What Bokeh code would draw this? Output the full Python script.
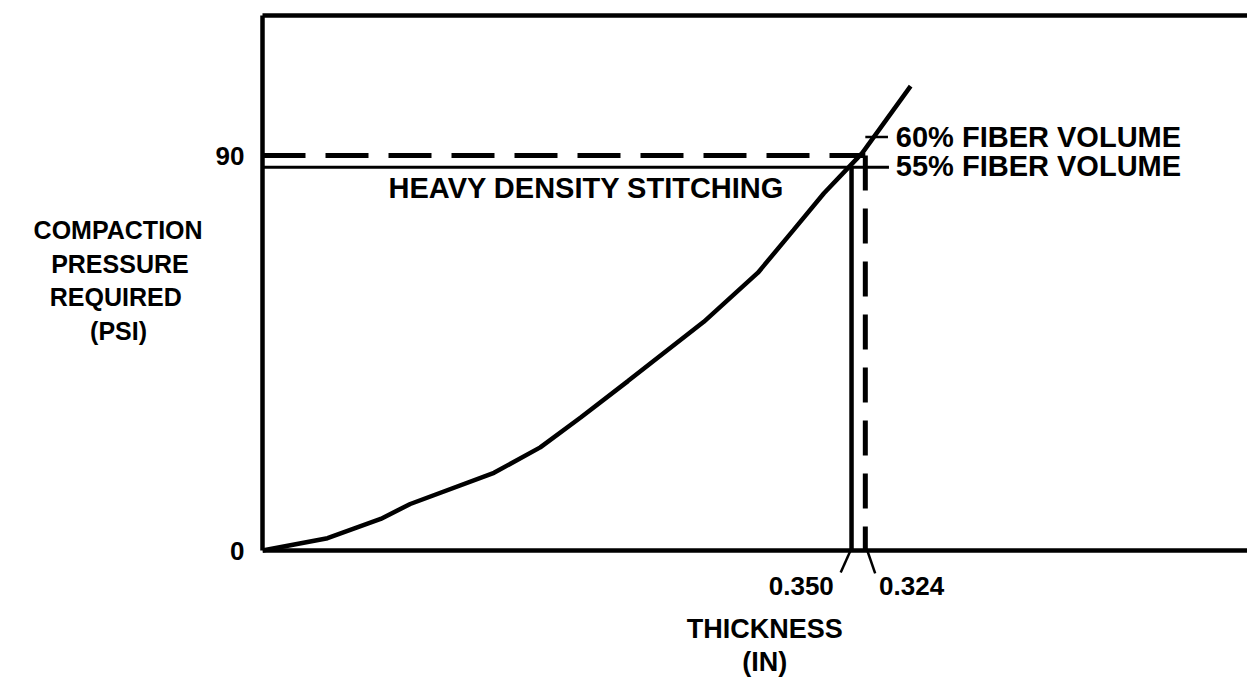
from bokeh.plotting import figure
from bokeh.models import Range1d, LinearAxis, FixedTicker, Span
from bokeh.core.properties import value
from bokeh.embed import file_html
from bokeh.resources import INLINE

# ---- data ----
# x: relative position along the thickness axis (0-100 across the frame)
curve_x = [0.0, 6.6, 12.0, 15.0, 23.5, 28.2, 32.3, 37.1, 44.8, 50.3, 53.9, 57.0, 59.5, 60.9, 65.8]
curve_y = [0.0, 2.8, 7.2, 10.6, 17.7, 23.5, 30.3, 38.6, 52.1, 63.3, 73.0, 81.4, 87.3, 90.6, 105.8]

pressure_60 = 90.0      # 60% fiber volume (dashed)
pressure_55 = 87.3      # 55% fiber volume / heavy density stitching (solid)
pos_350 = 59.8          # thickness 0.350 in position
pos_324 = 61.2          # thickness 0.324 in position
y_ticks = [0, 90]
thickness_labels = ["0.350", "0.324"]
fiber_labels = ["60% FIBER VOLUME", "55% FIBER VOLUME"]
y_title_lines = ["COMPACTION", "PRESSURE", "REQUIRED", "(PSI)"]
x_title_lines = ["THICKNESS", "(IN)"]

FONT = "Liberation Sans"
Y_TOP = 121.9
Y_BOTTOM = -29.39
NB = "\u00a0"

p = figure(width=1247, height=679, x_range=Range1d(0, 100), y_range=Range1d(Y_BOTTOM, Y_TOP),
           output_backend="svg", toolbar_location=None, x_axis_location=None,
           min_border_left=262, min_border_right=0, min_border_top=15, min_border_bottom=0)
p.outline_line_color = None
p.xgrid.visible = False
p.ygrid.visible = False
p.background_fill_color = "white"
p.border_fill_color = "white"

# y axis
ya = p.yaxis[0]
ya.bounds = (0, Y_TOP)
ya.ticker = FixedTicker(ticks=y_ticks)
ya.major_tick_out = 0
ya.major_tick_in = 0
ya.minor_tick_out = 0
ya.minor_tick_in = 0
ya.axis_line_width = 4.5
ya.axis_line_color = "black"
ya.major_label_text_font = FONT
ya.major_label_text_font_style = "bold"
ya.major_label_text_font_size = "26px"
ya.major_label_text_color = "black"
ya.major_label_standoff = 18
# pad the shorter lines so the right-aligned block looks centred; extra blank lines lift it
pads = [0, 2, 3, 8]
ya.axis_label = "\n".join(t + NB * n for t, n in zip(y_title_lines, pads)) + ("\n" + NB) * 4
ya.axis_label_orientation = "horizontal"
ya.axis_label_text_font = FONT
ya.axis_label_text_font_style = "bold"
ya.axis_label_text_font_size = "25px"
ya.axis_label_text_color = "black"
ya.axis_label_text_line_height = 1.2
ya.axis_label_standoff = 10

# top frame line
top = LinearAxis(ticker=FixedTicker(ticks=[]), axis_line_width=4.5, axis_line_color="black",
                 major_tick_out=0, minor_tick_out=0, major_label_text_font_size="0px")
p.add_layout(top, "above")

# thickness axis line
p.add_layout(Span(location=0, dimension="width", line_width=4.5, line_color="black"))

# curve
p.line(curve_x, curve_y, line_width=4.5, line_color="black")

# solid (55%) lines
p.line([0, pos_350 + 3.8], [pressure_55, pressure_55], line_width=3, line_color="black")
p.line([pos_350, pos_350], [0, pressure_55], line_width=4.5, line_color="black")

# dashed (60%) lines
p.line([0, pos_324], [pressure_60, pressure_60], line_width=5, line_color="black", line_dash="43 20")
p.line([pos_324, pos_324], [pressure_60, 0], line_width=5, line_color="black", line_dash="35 18")

# leader to 60% label
p.line([pos_324, pos_324 + 2.3], [pressure_60 + 4.2, pressure_60 + 4.2], line_width=2.5, line_color="black")

# fiber labels
p.text(x=[64.3, 64.3], y=[pressure_60 + 4.2, pressure_55 + 0.3], text=fiber_labels,
       text_font=value(FONT), text_font_style="bold", text_font_size="29px",
       text_baseline="middle", text_align="left", text_color="black")

p.text(x=[12.8], y=[82.5], text=["HEAVY DENSITY STITCHING"],
       text_font=value(FONT), text_font_style="bold", text_font_size="29px",
       text_baseline="middle", text_align="left", text_color="black")

# thickness labels below the axis with leader lines
p.text(x=[pos_350 - 1.8], y=[-8.2], text=[thickness_labels[0]], text_align="right",
       text_baseline="middle", text_font=value(FONT), text_font_style="bold",
       text_font_size="26px", text_color="black")
p.text(x=[pos_324 + 1.4], y=[-8.2], text=[thickness_labels[1]], text_align="left",
       text_baseline="middle", text_font=value(FONT), text_font_style="bold",
       text_font_size="26px", text_color="black")
p.line([pos_350 - 0.1, pos_350 - 1.1], [0, -5.0], line_width=2.5, line_color="black")
p.line([pos_324 + 0.2, pos_324 + 1.0], [0, -5.2], line_width=2.5, line_color="black")

# thickness axis title
p.text(x=[51.0, 51.0], y=[-17.8, -25.3], text=x_title_lines, text_align="center",
       text_baseline="middle", text_font=value(FONT), text_font_style="bold",
       text_font_size="27px", text_color="black")

open("out.html", "w").write(file_html(p, INLINE))
